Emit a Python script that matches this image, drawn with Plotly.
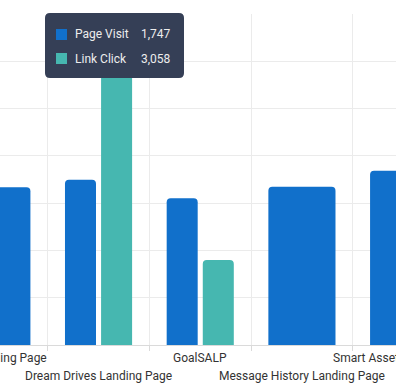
import plotly.graph_objects as go

# ---- data ----
categories = [
    "Blog Landing Page",
    "Dream Drives Landing Page",
    "GoalSALP",
    "Message History Landing Page",
    "Smart Asset Landing Page",
]
page_visit = [1667, 1747, 1551, 1674, 1843]
link_click = [None, 3058, 900, None, None]

series_names = ["Page Visit", "Link Click"]
series_colors = ["#1170CB", "#46B7B0"]

# tooltip content (hovered category)
tip_index = 1

# ---- layout constants ----
W, H = 396, 388
M_T, M_B = 14, 43
X_RANGE = [0.031, 3.925]
Y_RANGE = [0, 3500]
PLOT_H = H - M_T - M_B
PX_PER_CAT = W / (X_RANGE[1] - X_RANGE[0])

group_w = 0.66
bar_w = 0.305

def px_to_paper_x(px):
    return px / W

def px_to_paper_y(py):
    return (H - M_B - py) / PLOT_H

def cat_to_paper_x(i):
    return (i - X_RANGE[0]) * PX_PER_CAT / W

# per-point widths/offsets: a lone bar fills the whole group
pv_width, pv_offset, lc_width, lc_offset = [], [], [], []
for v in link_click:
    if v is None:
        pv_width.append(group_w); pv_offset.append(-group_w / 2)
        lc_width.append(bar_w); lc_offset.append(0)
    else:
        pv_width.append(bar_w); pv_offset.append(-group_w / 2)
        lc_width.append(bar_w); lc_offset.append(group_w / 2 - bar_w)

fig = go.Figure()
fig.add_trace(go.Bar(
    x=categories, y=page_visit, name=series_names[0],
    width=pv_width, offset=pv_offset,
    marker=dict(color=series_colors[0], cornerradius=4, line=dict(width=0)),
))
fig.add_trace(go.Bar(
    x=categories, y=link_click, name=series_names[1],
    width=lc_width, offset=lc_offset,
    marker=dict(color=series_colors[1], cornerradius=4, line=dict(width=0)),
))

fig.update_layout(
    width=W, height=H,
    margin=dict(l=0, r=0, t=M_T, b=M_B, pad=0),
    barmode="overlay",
    showlegend=False,
    hovermode=False,
    plot_bgcolor="white",
    paper_bgcolor="white",
    font=dict(family="Roboto", size=12, color="#333333"),
)
fig.update_xaxes(
    type="category", range=X_RANGE,
    tickson="boundaries", showgrid=True, gridcolor="#EBEBEB", gridwidth=1,
    ticks="outside", ticklen=5, tickcolor="#DADADA",
    showline=True, linecolor="#DADADA", linewidth=1,
    showticklabels=False, zeroline=False,
)
fig.update_yaxes(
    range=Y_RANGE, dtick=500, showgrid=True, gridcolor="#EBEBEB", gridwidth=1,
    showticklabels=False, zeroline=False, showline=False,
)

# category labels, staggered in two rows
for i, name in enumerate(categories):
    fig.add_annotation(
        text=name, xref="paper", yref="paper",
        x=cat_to_paper_x(i), y=0, xanchor="center", yanchor="middle",
        yshift=-12.5 if i % 2 == 0 else -30.5,
        showarrow=False, font=dict(family="Roboto", size=12, color="#333333"),
    )

# tooltip box
def rounded_rect(x0, y0, x1, y1, r):
    X = px_to_paper_x; Y = px_to_paper_y
    return (
        f"M {X(x0 + r)},{Y(y0)} L {X(x1 - r)},{Y(y0)} Q {X(x1)},{Y(y0)} {X(x1)},{Y(y0 + r)} "
        f"L {X(x1)},{Y(y1 - r)} Q {X(x1)},{Y(y1)} {X(x1 - r)},{Y(y1)} "
        f"L {X(x0 + r)},{Y(y1)} Q {X(x0)},{Y(y1)} {X(x0)},{Y(y1 - r)} "
        f"L {X(x0)},{Y(y0 + r)} Q {X(x0)},{Y(y0)} {X(x0 + r)},{Y(y0)} Z"
    )

fig.add_shape(type="path", xref="paper", yref="paper",
              path=rounded_rect(45, 13, 184, 78, 5),
              fillcolor="#353F56", line=dict(width=0), layer="above")

tip_values = [page_visit[tip_index], link_click[tip_index]]
row_centers = [34.5, 58.5]
for name, color, val, cy in zip(series_names, series_colors, tip_values, row_centers):
    fig.add_shape(type="rect", xref="paper", yref="paper",
                  x0=px_to_paper_x(56), x1=px_to_paper_x(67),
                  y0=px_to_paper_y(cy - 5.5), y1=px_to_paper_y(cy + 5.5),
                  fillcolor=color, line=dict(width=0), layer="above")
    fig.add_annotation(text=name, xref="paper", yref="paper",
                       x=px_to_paper_x(73), y=px_to_paper_y(cy),
                       xanchor="left", yanchor="middle", showarrow=False,
                       font=dict(family="Roboto", size=12, color="#EDEDED"))
    fig.add_annotation(text=f"{val:,}", xref="paper", yref="paper",
                       x=px_to_paper_x(173), y=px_to_paper_y(cy),
                       xanchor="right", yanchor="middle", showarrow=False,
                       font=dict(family="Roboto", size=12, color="#EDEDED"))

fig.write_html(
    "out.html",
    config={"displayModeBar": False},
    post_script="document.body.style.margin='0';document.body.style.overflow='hidden';",
)
